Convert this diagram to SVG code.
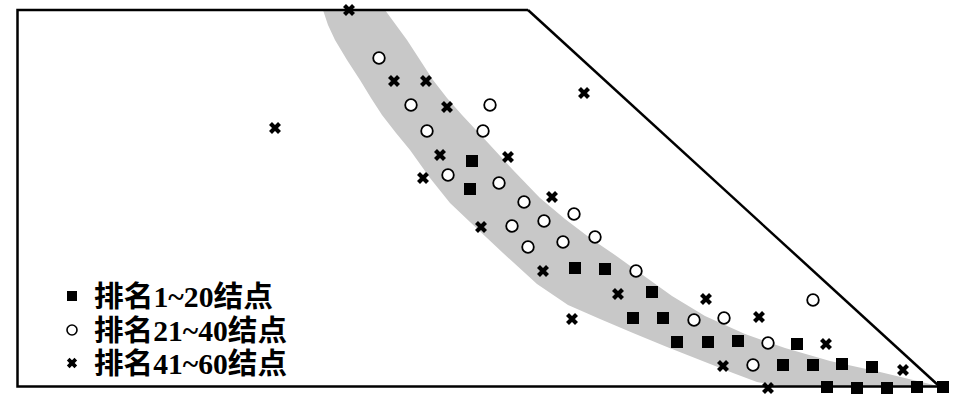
<svg xmlns="http://www.w3.org/2000/svg" xmlns:xlink="http://www.w3.org/1999/xlink" width="969" height="418" viewBox="0 0 969 418">
<style>
.frame{fill:none;stroke:#000;stroke-width:2.5;stroke-linejoin:miter}
.band{fill:#c8c8c8;stroke:none}
.leg{font-family:"Liberation Serif","Noto Sans CJK SC",serif;font-weight:bold;font-size:29px;fill:#000}
</style>
<defs>
<rect id="sq" x="-6" y="-6" width="12" height="12" fill="#000"/>
<circle id="ci" r="5.8" fill="#fff" stroke="#000" stroke-width="1.8"/>
<path id="cr" d="M-4.5,-4.5L4.5,4.5M4.5,-4.5L-4.5,4.5" stroke="#000" stroke-width="4.2" fill="none"/>
<rect id="lsq" x="-5" y="-5" width="10" height="10" fill="#000"/>
<circle id="lci" r="5" fill="#fff" stroke="#000" stroke-width="1.6"/>
<path id="lcr" d="M-3.8,-3.8L3.8,3.8M3.8,-3.8L-3.8,3.8" stroke="#000" stroke-width="3.8" fill="none"/>
</defs>
<rect width="969" height="418" fill="#fff"/>
<g id="band">
<path class="band" d="M323,10 L385,10 L396,25 L407,40 L420,60 L433,80 L447,98 L462,115 L476,130 L490,145 L513,170 L540,198 L565,219 L590,238 L615,255 L640,273 L672,296 L705,316 L745,334 L785,348 L830,361 L880,372 L938,386 L780,386 L757,382 L733,373 L700,360 L667,347 L633,333 L600,319 L568,305 L537,284 L503,253 L470,222 L450,203 L430,178 L410,150 L396,133 L382,115 L371,98 L360,80 L347,60 L335,40 L328,25 Z"/>
</g>
<g id="frame">
<path class="frame" d="M528,10 H17.5 V386.5 H940"/>
<path class="frame" d="M528,10 L939,386"/>
</g>
<g id="rank1-20">
<use xlink:href="#sq" x="472" y="161"/>
<use xlink:href="#sq" x="470" y="189"/>
<use xlink:href="#sq" x="575" y="268"/>
<use xlink:href="#sq" x="605" y="269"/>
<use xlink:href="#sq" x="652" y="292"/>
<use xlink:href="#sq" x="633" y="318"/>
<use xlink:href="#sq" x="663" y="318"/>
<use xlink:href="#sq" x="677" y="342"/>
<use xlink:href="#sq" x="708" y="342"/>
<use xlink:href="#sq" x="738" y="341"/>
<use xlink:href="#sq" x="797" y="344"/>
<use xlink:href="#sq" x="783" y="365"/>
<use xlink:href="#sq" x="813" y="365"/>
<use xlink:href="#sq" x="842" y="364"/>
<use xlink:href="#sq" x="872" y="367"/>
<use xlink:href="#sq" x="827" y="387"/>
<use xlink:href="#sq" x="857" y="388"/>
<use xlink:href="#sq" x="887" y="388"/>
<use xlink:href="#sq" x="917" y="387"/>
<use xlink:href="#sq" x="943" y="387"/>
</g>
<g id="rank21-40">
<use xlink:href="#ci" x="379" y="58"/>
<use xlink:href="#ci" x="411" y="105"/>
<use xlink:href="#ci" x="490" y="105"/>
<use xlink:href="#ci" x="427" y="131"/>
<use xlink:href="#ci" x="483" y="131"/>
<use xlink:href="#ci" x="448" y="175"/>
<use xlink:href="#ci" x="499" y="183"/>
<use xlink:href="#ci" x="524" y="202"/>
<use xlink:href="#ci" x="574" y="214"/>
<use xlink:href="#ci" x="512" y="226"/>
<use xlink:href="#ci" x="544" y="221"/>
<use xlink:href="#ci" x="595" y="237"/>
<use xlink:href="#ci" x="528" y="247"/>
<use xlink:href="#ci" x="563" y="242"/>
<use xlink:href="#ci" x="636" y="271"/>
<use xlink:href="#ci" x="694" y="320"/>
<use xlink:href="#ci" x="724" y="318"/>
<use xlink:href="#ci" x="813" y="300"/>
<use xlink:href="#ci" x="768" y="343"/>
<use xlink:href="#ci" x="753" y="365"/>
</g>
<g id="rank41-60">
<use xlink:href="#cr" x="349" y="10"/>
<use xlink:href="#cr" x="275" y="128"/>
<use xlink:href="#cr" x="394" y="81"/>
<use xlink:href="#cr" x="426" y="81"/>
<use xlink:href="#cr" x="447" y="107"/>
<use xlink:href="#cr" x="584" y="93"/>
<use xlink:href="#cr" x="440" y="155"/>
<use xlink:href="#cr" x="508" y="157"/>
<use xlink:href="#cr" x="423" y="178"/>
<use xlink:href="#cr" x="552" y="197"/>
<use xlink:href="#cr" x="481" y="227"/>
<use xlink:href="#cr" x="543" y="271"/>
<use xlink:href="#cr" x="618" y="294"/>
<use xlink:href="#cr" x="572" y="319"/>
<use xlink:href="#cr" x="706" y="299"/>
<use xlink:href="#cr" x="759" y="317"/>
<use xlink:href="#cr" x="826" y="344"/>
<use xlink:href="#cr" x="723" y="366"/>
<use xlink:href="#cr" x="903" y="370"/>
<use xlink:href="#cr" x="768" y="388"/>
</g>
<g id="legend">
<use xlink:href="#lsq" x="72" y="296"/>
<use xlink:href="#lci" x="72" y="330"/>
<use xlink:href="#lcr" x="72" y="363"/>
<text class="leg" x="94" y="307" textLength="179" lengthAdjust="spacingAndGlyphs">排名1~20结点</text>
<text class="leg" x="94" y="341" textLength="193" lengthAdjust="spacingAndGlyphs">排名21~40结点</text>
<text class="leg" x="94" y="374" textLength="193" lengthAdjust="spacingAndGlyphs">排名41~60结点</text>
</g>
</svg>
